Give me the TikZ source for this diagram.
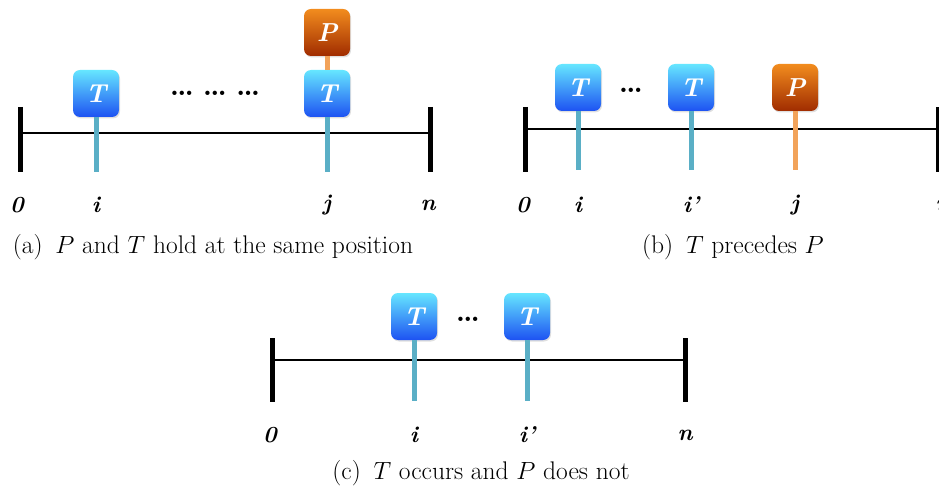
\documentclass[tikz,border=0pt]{standalone}
\usetikzlibrary{shadows}
\definecolor{stemblue}{HTML}{5AAFC6}
\definecolor{stemorange}{HTML}{F2A35A}
\definecolor{ttop}{HTML}{66E6FF}
\definecolor{tbot}{HTML}{1D52F2}
\definecolor{ptop}{HTML}{F28C1E}
\definecolor{pbot}{HTML}{A02C00}
\tikzset{
 tbox/.style={rounded corners=7pt, minimum width=46pt, minimum height=47pt, top color=ttop, bottom color=tbot, text=white, font=\fontsize{26}{28}\selectfont\bfseries\itshape, inner sep=0pt, drop shadow={opacity=0.25, shadow xshift=1pt, shadow yshift=-1.5pt}},
 pbox/.style={tbox, top color=ptop, bottom color=pbot},
 axisline/.style={line width=2pt},
 endtick/.style={line width=5pt},
 tstem/.style={line width=5pt, stemblue},
 pstem/.style={line width=5pt, stemorange},
 lab/.style={font=\fontsize{23}{25}\selectfont\bfseries\itshape},
 capt/.style={font=\fontsize{25.5}{28}\selectfont},
 dotsty/.style={font=\fontsize{30}{32}\selectfont\bfseries}
}
\begin{document}
\begin{tikzpicture}[x=1pt,y=-1pt]
\useasboundingbox (0,0) rectangle (939,494);
% ---------------- (a)
\coordinate (a0t) at (20,107); \coordinate (a0b) at (20,172);
\coordinate (ant) at (430,107); \coordinate (anb) at (430,172);
\coordinate (a0m) at (20,133); \coordinate (anm) at (430,133);
\draw[endtick] (a0t) -- (a0b);
\draw[endtick] (ant) -- (anb);
\draw[axisline] (a0m) -- (anm);
\coordinate (aib) at (96,172); \coordinate (ajb) at (327,172);
\node[tbox] (aTi) at (96,93.5) {T};
\node[tbox] (aTj) at (327,93.5) {T};
\node[pbox] (aPj) at (327,32.5) {P};
\draw[tstem] (aTi.south) -- (aib);
\draw[tstem] (aTj.south) -- (ajb);
\draw[pstem] (aPj.south) -- (aTj.north);
\node[dotsty] (adots) at (215,93) {\dots\hspace{9pt}\dots\hspace{9pt}\dots};
\node[lab] (al0) at (17,205) {0};
\node[lab] (ali) at (96,205) {i};
\node[lab] (alj) at (327,205) {j};
\node[lab] (aln) at (428,205) {n};
\node[capt] (acap) at (213,247) {(a)\enspace $P$ and $T$ hold at the same position};
% ---------------- (b)
\coordinate (b0t) at (525,107); \coordinate (b0b) at (525,172);
\coordinate (bnt) at (938,107); \coordinate (bnb) at (938,172);
\coordinate (b0m) at (525,129); \coordinate (bnm) at (938,129);
\draw[endtick] (b0t) -- (b0b);
\draw[endtick] (bnt) -- (bnb);
\draw[axisline] (b0m) -- (bnm);
\coordinate (bib) at (578,170); \coordinate (bi2b) at (691,170); \coordinate (bjb) at (795,170);
\node[tbox] (bTi) at (578,87.5) {T};
\node[tbox] (bTi2) at (691,87.5) {T};
\node[pbox] (bPj) at (795,87.5) {P};
\draw[tstem] (bTi.south) -- (bib);
\draw[tstem] (bTi2.south) -- (bi2b);
\draw[pstem] (bPj.south) -- (bjb);
\node[dotsty] (bdots) at (631,90) {\dots};
\node[lab] (bl0) at (523,205) {0};
\node[lab] (bli) at (578,205) {i};
\node[lab] (bli2) at (691,205) {i'};
\node[lab] (blj) at (795,205) {j};
\node[lab] (bln) at (943,205) {n};
\node[capt] (bcap) at (733,247) {(b)\enspace $T$ precedes $P$};
% ---------------- (c)
\coordinate (c0t) at (272,338); \coordinate (c0b) at (272,402);
\coordinate (cnt) at (685,338); \coordinate (cnb) at (685,402);
\coordinate (c0m) at (272,360); \coordinate (cnm) at (685,360);
\draw[endtick] (c0t) -- (c0b);
\draw[endtick] (cnt) -- (cnb);
\draw[axisline] (c0m) -- (cnm);
\coordinate (cib) at (414,401); \coordinate (ci2b) at (527,401);
\node[tbox] (cTi) at (414,316.5) {T};
\node[tbox] (cTi2) at (527,316.5) {T};
\draw[tstem] (cTi.south) -- (cib);
\draw[tstem] (cTi2.south) -- (ci2b);
\node[dotsty] (cdots) at (468,319) {\dots};
\node[lab] (cl0) at (270,435) {0};
\node[lab] (cli) at (414,435) {i};
\node[lab] (cli2) at (527,435) {i'};
\node[lab] (cln) at (685,435) {n};
\node[capt] (ccap) at (481,473) {(c)\enspace $T$ occurs and $P$ does not};
\end{tikzpicture}
\end{document}
